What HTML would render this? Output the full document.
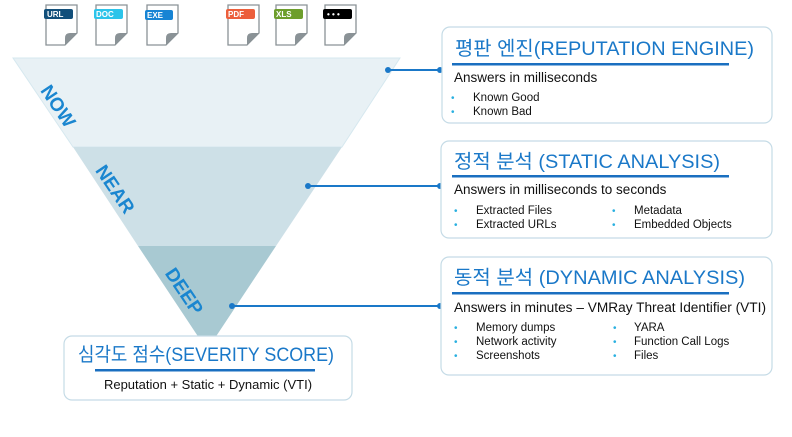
<!DOCTYPE html>
<html><head><meta charset="utf-8"><style>
html,body{margin:0;padding:0;background:#fff;}
svg{display:block;font-family:"Liberation Sans","Noto Sans CJK KR",sans-serif;}
.t{fill:#1a78c8;font-size:19.5px;}
.s{fill:#111;font-size:13.5px;}
.b{fill:#111;font-size:11.5px;}
.d{fill:#2ab0e0;font-size:10px;}
.tag{fill:#fff;font-size:8px;font-weight:bold;}
.f{font-size:19px;font-weight:bold;fill:#1a86d0;}
</style></head><body>
<svg width="792" height="437" viewBox="0 0 792 437">
<polygon points="13,58 400,58 342,147 73,147" fill="#e8f1f5" stroke="#d6e8ef" stroke-width="1"/>
<polygon points="73,147 342,147 276,246 138,246" fill="#cde0e7"/>
<polygon points="138,246 276,246 207,350" fill="#a8c9d2"/>
<text class="f" transform="translate(57,107) rotate(56)" text-anchor="middle" dominant-baseline="middle">NOW</text>
<text class="f" transform="translate(114,190) rotate(56)" text-anchor="middle" dominant-baseline="middle">NEAR</text>
<text class="f" transform="translate(183,292) rotate(56)" text-anchor="middle" dominant-baseline="middle">DEEP</text>
<g stroke="#8a9296" stroke-width="1.3" fill="#fff">
<path d="M46,5 h31 v28 l-12,12 h-19 z"/>
<path d="M96,5 h31 v28 l-12,12 h-19 z"/>
<path d="M147,5 h31 v28 l-12,12 h-19 z"/>
<path d="M228,5 h31 v28 l-12,12 h-19 z"/>
<path d="M276,5 h31 v28 l-12,12 h-19 z"/>
<path d="M325,5 h31 v28 l-12,12 h-19 z"/>
</g>
<g fill="#8a9296">
<path d="M77,33 l-12,12 v-7 q0,-5 5,-5 z"/>
<path d="M127,33 l-12,12 v-7 q0,-5 5,-5 z"/>
<path d="M178,33 l-12,12 v-7 q0,-5 5,-5 z"/>
<path d="M259,33 l-12,12 v-7 q0,-5 5,-5 z"/>
<path d="M307,33 l-12,12 v-7 q0,-5 5,-5 z"/>
<path d="M356,33 l-12,12 v-7 q0,-5 5,-5 z"/>
</g>
<rect x="44" y="9" width="29" height="10" rx="2" fill="#124f7a"/><text class="tag" x="47" y="17">URL</text>
<rect x="94" y="9" width="29" height="10" rx="2" fill="#2cc4ea"/><text class="tag" x="96" y="17">DOC</text>
<rect x="145" y="10" width="28" height="10" rx="2" fill="#1784d4"/><text class="tag" x="147" y="18">EXE</text>
<rect x="226" y="9" width="29" height="10" rx="2" fill="#ec5f3c"/><text class="tag" x="228" y="17">PDF</text>
<rect x="274" y="9" width="29" height="10" rx="2" fill="#6d9e2c"/><text class="tag" x="276" y="17">XLS</text>
<rect x="323" y="9" width="29" height="10" rx="2" fill="#000"/><text class="tag" x="327" y="17">• • •</text>
<g stroke="#1a78c8" stroke-width="2"><line x1="388" y1="70" x2="440" y2="70"/><line x1="308" y1="186" x2="440" y2="186"/><line x1="232" y1="306" x2="440" y2="306"/></g>
<g fill="#1a78c8"><circle cx="388" cy="70" r="3"/><circle cx="440" cy="70" r="3"/><circle cx="308" cy="186" r="3"/><circle cx="440" cy="186" r="3"/><circle cx="232" cy="306" r="3"/><circle cx="440" cy="306" r="3"/></g>
<g fill="#fff" stroke="#c5dbe6" stroke-width="1.2">
<rect x="442" y="27" width="330" height="96" rx="8"/>
<rect x="441" y="141" width="331" height="97" rx="8"/>
<rect x="441" y="257" width="331" height="118" rx="8"/>
<rect x="64" y="336" width="288" height="64" rx="8"/>
</g>
<g fill="#1a6fc0"><rect x="452" y="63" width="277" height="2.5"/><rect x="452" y="175" width="277" height="2.5"/><rect x="452" y="292" width="277" height="2.5"/><rect x="95" y="369" width="220" height="2.5"/></g>
<text class="t" x="455" y="55" textLength="299" lengthAdjust="spacingAndGlyphs">평판 엔진(REPUTATION ENGINE)</text>
<text class="s" x="454" y="82">Answers in milliseconds</text>
<text class="d" x="451" y="101">•</text><text class="b" x="473" y="101">Known Good</text>
<text class="d" x="451" y="115">•</text><text class="b" x="473" y="115">Known Bad</text>

<text class="t" x="454" y="168" textLength="266" lengthAdjust="spacingAndGlyphs">정적 분석 (STATIC ANALYSIS)</text>
<text class="s" x="454" y="194">Answers in milliseconds to seconds</text>
<text class="d" x="454" y="214">•</text><text class="b" x="476" y="214">Extracted Files</text>
<text class="d" x="454" y="228">•</text><text class="b" x="476" y="228">Extracted URLs</text>
<text class="d" x="612" y="214">•</text><text class="b" x="634" y="214">Metadata</text>
<text class="d" x="612" y="228">•</text><text class="b" x="634" y="228">Embedded Objects</text>

<text class="t" x="454" y="284" textLength="291" lengthAdjust="spacingAndGlyphs">동적 분석 (DYNAMIC ANALYSIS)</text>
<text class="s" x="454" y="312" textLength="312" lengthAdjust="spacingAndGlyphs">Answers in minutes – VMRay Threat Identifier (VTI)</text>
<text class="d" x="454" y="331">•</text><text class="b" x="476" y="331">Memory dumps</text>
<text class="d" x="454" y="345">•</text><text class="b" x="476" y="345">Network activity</text>
<text class="d" x="454" y="359">•</text><text class="b" x="476" y="359">Screenshots</text>
<text class="d" x="613" y="331">•</text><text class="b" x="634" y="331">YARA</text>
<text class="d" x="613" y="345">•</text><text class="b" x="634" y="345">Function Call Logs</text>
<text class="d" x="613" y="359">•</text><text class="b" x="634" y="359">Files</text>

<text class="t" x="78" y="361" textLength="256" lengthAdjust="spacingAndGlyphs">심각도 점수(SEVERITY SCORE)</text>
<text class="s" x="208" y="389" text-anchor="middle" style="font-size:13px">Reputation + Static + Dynamic (VTI)</text>
</svg>
</body></html>
